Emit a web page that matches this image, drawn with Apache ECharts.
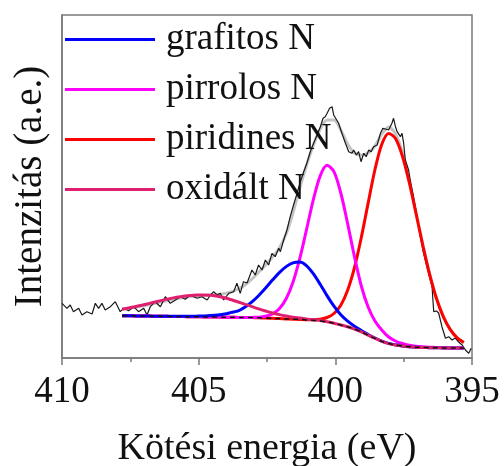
<!DOCTYPE html>
<html>
<head>
<meta charset="utf-8">
<script src="https://cdn.jsdelivr.net/npm/echarts@6/dist/echarts.min.js"></script>
<style>
  html, body { margin: 0; padding: 0; background: #fff; }
  #chart { width: 504px; height: 466px; }
</style>
</head>
<body>
<div id="chart"></div>
<script>
// N1s XPS spektrum - illesztett komponensek (a.e.)
const fitEnergy = [407.8,407.55,407.3,407.05,406.8,406.55,406.3,406.05,405.8,405.55,405.3,405.05,404.8,404.55,404.3,404.05,403.8,403.55,403.3,403.05,402.8,402.55,402.3,402.05,401.8,401.55,401.3,401.05,400.8,400.55,400.3,400.05,399.8,399.55,399.3,399.05,398.8,398.55,398.3,398.05,397.8,397.55,397.3,397.05,396.8,396.55,396.3,396.05,395.8,395.55,395.3];
const background = [42.3,42.2,42.1,42.0,41.9,41.8,41.7,41.6,41.5,41.4,41.3,41.2,41.1,41.0,40.9,40.8,40.7,40.6,40.5,40.4,40.2,40.0,39.7,39.4,39.1,38.8,38.5,38.1,37.6,37.0,36.0,34.7,33.0,31.2,28.9,26.2,22.8,19.6,16.6,14.4,13.0,12.0,11.3,10.8,10.5,10.3,10.2,10.1,10.0,10.0,10.0];
const grafitosN = [42.3,42.2,42.1,42.0,41.9,41.8,41.8,41.7,41.7,41.7,41.8,41.9,42.1,42.5,43.1,44.0,45.6,47.2,51.0,56.1,62.5,70.0,77.9,85.4,91.4,95.2,96.0,92.2,84.1,73.5,62.1,51.8,43.2,36.8,31.7,27.5,23.4,20.0,16.9,14.6,13.2,12.1,11.3,10.8,10.5,10.3,10.2,10.1,10.0,10.0,10.0];
const pirrolosN = [42.3,42.2,42.1,42.0,41.9,41.8,41.7,41.6,41.5,41.4,41.3,41.2,41.1,41.0,40.9,40.8,40.7,40.6,40.5,40.6,40.8,41.7,44.0,49.2,59.2,75.8,99.6,128.9,158.8,182.4,192.7,186.4,165.0,134.4,101.4,72.0,51.0,37.0,28.0,21.0,17.0,14.5,12.8,11.8,11.2,10.8,10.5,10.3,10.1,10.0,10.0];
const piridinesN = [42.3,42.2,42.1,42.0,41.9,41.8,41.7,41.6,41.5,41.4,41.3,41.2,41.1,41.0,40.9,40.8,40.7,40.6,40.5,40.4,40.2,40.0,39.7,39.4,39.1,38.8,38.5,38.3,38.3,38.8,40.5,44.5,52.8,67.7,90.3,120.5,154.9,188.5,213.8,224.6,219.5,202.2,176.0,144.7,112.7,83.6,59.5,41.4,28.6,20.4,15.4];
const oxidaltN = [48.7,50.0,51.5,53.0,54.6,56.3,57.9,59.4,60.7,61.8,62.6,63.0,63.1,62.7,61.7,60.2,58.2,56.0,53.7,51.4,49.1,47.0,45.0,43.4,42.0,40.8,39.9,39.0,38.2,37.4,36.2,34.8,33.0,31.2,28.9,26.2,22.8,19.6,16.6,14.4,13.0,12.0,11.3,10.8,10.5,10.3,10.2,10.1,10.0,10.0,10.0];
const fitEnvelope = [49,50,51,52,53.5,55,56.5,58,59.5,60.5,61.5,62,62.5,63,63.5,64.5,66,69,73,79,86,93,101,110,124,145,170,193,213,229,238,238,228,214,205,203,205,212,224,231,224,206,178,146,113.4,84.1,59.8,41.6,28.6,20.4,15.4];

// mért spektrum
const rawEnergy = [410.00,409.82,409.70,409.58,409.39,409.27,409.09,408.90,408.78,408.66,408.54,408.42,408.23,408.05,407.87,407.75,407.56,407.38,407.20,407.01,406.89,406.77,406.59,406.40,406.22,406.04,405.85,405.67,405.49,405.31,405.06,404.88,404.69,404.57,404.45,404.33,404.21,404.09,403.90,403.72,403.60,403.48,403.36,403.23,403.05,402.93,402.81,402.68,402.56,402.44,402.32,402.20,402.07,402.01,401.89,401.77,401.65,401.53,401.40,401.28,401.16,401.04,400.92,400.79,400.67,400.55,400.45,400.37,400.30,400.21,400.16,400.12,400.06,400.00,399.88,399.76,399.63,399.51,399.39,399.33,399.23,399.15,399.06,398.96,398.87,398.78,398.69,398.60,398.47,398.35,398.26,398.17,398.05,397.93,397.87,397.80,397.74,397.68,397.62,397.56,397.50,397.44,397.38,397.32,397.26,397.14,397.01,396.89,396.77,396.59,396.46,396.43,396.40,396.30,396.22,396.10,395.97,395.85,395.73,395.61,395.49,395.36,395.24,395.12,395.03];
const rawIntensity = [54.7,49.7,53,46.3,49.7,43,46.3,44,54.7,49.7,54.7,48,51.3,56.3,46.3,49.7,47.3,51.3,46.3,49.7,43,51.3,56.3,51.3,61.3,54.7,58,61.3,58.7,63,59.7,61.3,58,63,66.3,63,64.7,58,64.7,66.3,74.7,64.7,76.3,75,88,83,93,88,98,93,104.7,101.3,109.7,106.3,118,128,141.3,153,164.7,176.3,186,195,206,215,223,231,239.7,241.3,244.7,249.7,248,251.3,243,244.7,234.7,224.7,214.7,206.3,204.7,208,203,206.3,196.3,204.7,201.3,208,206.3,211.3,213,224.7,229.7,229,228,234.7,239.7,231.3,226.3,228,221.3,224.7,214.7,198,196.3,188,178,161.3,141.3,121.3,104.7,84.7,71.3,58,46.3,47,45,31.3,19.7,21.3,18,20,16,13,8,4.7,9.7];

const legendNames = ['grafitos N', 'pirrolos N', 'piridines N', 'oxidált N'];

function pairs(xs, ys) {
  return xs.map((x, i) => [x, ys[i]]);
}

const serif = 'Liberation Serif';
const frame = '#7a7a7a';

const chart = echarts.init(document.getElementById('chart'), null, { renderer: 'canvas' });

const option = {
  backgroundColor: '#ffffff',
  animation: false,
  grid: {
    left: 62, top: 15, width: 410, height: 343,
    outerBoundsMode: 'none',
    containLabel: false,
    show: true, borderColor: frame, borderWidth: 1.5
  },
  legend: {
    orient: 'vertical',
    left: 65,
    top: 21,
    icon: 'rect',
    itemWidth: 90,
    itemHeight: 3,
    itemGap: 13,
    padding: 0,
    textStyle: { fontFamily: serif, fontSize: 37, color: '#111', lineHeight: 36, padding: [0, 0, 0, 6] },
    data: legendNames
  },
  xAxis: {
    type: 'value',
    inverse: true,
    min: 395, max: 410, interval: 5,
    name: 'Kötési energia (eV)',
    nameLocation: 'middle',
    nameGap: 72,
    nameTextStyle: { fontFamily: serif, fontSize: 38, color: '#111' },
    axisLine: { show: true, lineStyle: { color: frame, width: 1.5 } },
    axisTick: { show: true, length: 7, lineStyle: { color: frame, width: 1.5 } },
    minorTick: { show: true, splitNumber: 2, length: 4, lineStyle: { color: frame, width: 1.5 } },
    axisLabel: { fontFamily: serif, fontSize: 37, color: '#111', margin: 16 },
    splitLine: { show: false }
  },
  yAxis: {
    type: 'value',
    min: 0, max: 343,
    name: 'Intenzitás (a.e.)',
    nameLocation: 'middle',
    nameGap: 12,
    nameTextStyle: { fontFamily: serif, fontSize: 39, color: '#111' },
    axisLine: { show: true, lineStyle: { color: frame, width: 1.5 } },
    axisTick: { show: false },
    axisLabel: { show: false },
    splitLine: { show: false }
  },
  series: [
    {
      name: 'illesztés', type: 'line', data: pairs(fitEnergy, fitEnvelope),
      showSymbol: false, smooth: 0.3, color: '#c4c4c4',
      lineStyle: { width: 3, color: '#c4c4c4' }, z: 1
    },
    {
      name: 'mért', type: 'line', data: pairs(rawEnergy, rawIntensity),
      showSymbol: false, color: '#1a1a1a',
      lineStyle: { width: 1.2, color: '#1a1a1a' }, z: 2
    },
    {
      name: 'piridines N', type: 'line', data: pairs(fitEnergy, piridinesN),
      showSymbol: false, smooth: 0.3, color: '#ff0000',
      lineStyle: { width: 3, color: '#ff0000' }, z: 3
    },
    {
      name: 'pirrolos N', type: 'line', data: pairs(fitEnergy, pirrolosN),
      showSymbol: false, smooth: 0.3, color: '#ff00ff',
      lineStyle: { width: 3, color: '#ff00ff' }, z: 3
    },
    {
      name: 'grafitos N', type: 'line', data: pairs(fitEnergy, grafitosN),
      showSymbol: false, smooth: 0.3, color: '#0000ff',
      lineStyle: { width: 3, color: '#0000ff' }, z: 3
    },
    {
      name: 'oxidált N', type: 'line', data: pairs(fitEnergy, oxidaltN),
      showSymbol: false, smooth: 0.3, color: '#e0206e',
      lineStyle: { width: 3, color: '#e0206e' }, z: 3
    },
    {
      name: 'háttér', type: 'line', data: pairs(fitEnergy, background),
      showSymbol: false, smooth: 0.3, color: '#111',
      lineStyle: { width: 1.5, color: '#111', type: [5, 4] }, z: 4
    }
  ]
};

chart.setOption(option);
</script>
</body>
</html>
